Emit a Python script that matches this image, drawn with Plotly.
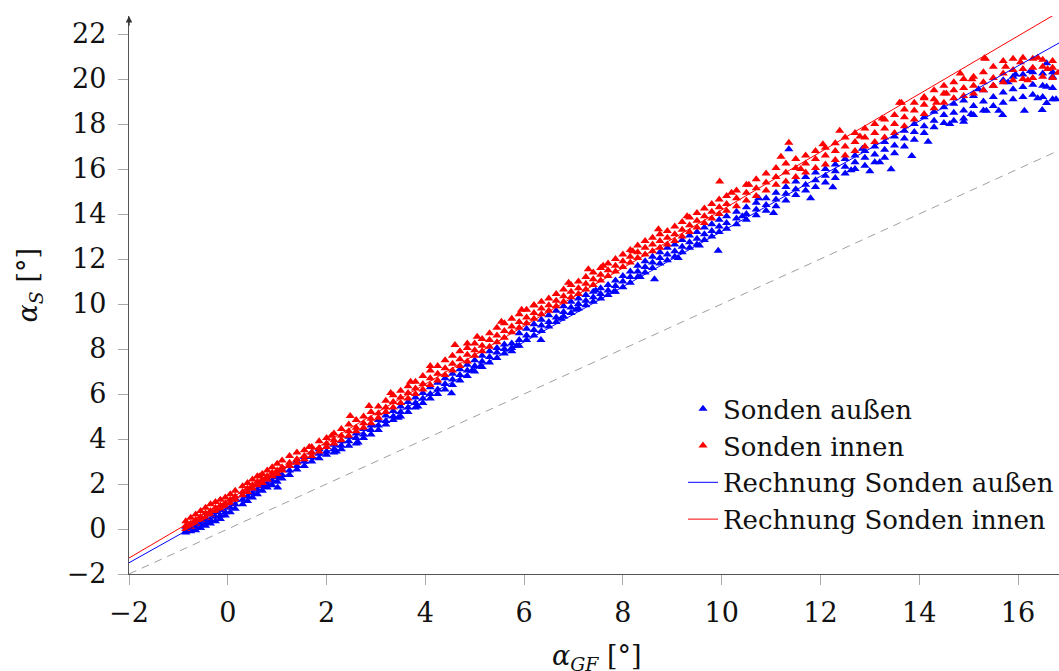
import plotly.graph_objects as go

# ---- data ----
blue_x = [-0.85, -0.75, -0.65, -0.55, -0.45, -0.35, -0.25, -0.15, -0.05, 0.05, 0.15, 0.30, 0.40, 0.50, 0.60, 0.70, 0.80, 0.90, 1.00, 1.10,
          1.25, 1.40, 1.55, 1.70, 1.85, 2.00, 2.15, 2.30, 2.45, 2.60, 2.75, 2.90, 3.05, 3.20, 3.35, 3.50, 3.65, 3.80, 3.95, 4.10,
          4.25, 4.40, 4.55, 4.70, 4.85, 5.00, 5.15, 5.30, 5.45, 5.60, 5.75, 5.90, 6.05, 6.20, 6.35, 6.50, 6.65, 6.80, 6.95, 7.10,
          7.25, 7.40, 7.55, 7.70, 7.85, 8.00, 8.15, 8.30, 8.45, 8.60, 8.75, 8.90, 9.05, 9.20, 9.35, 9.50, 9.65, 9.80, 9.95, 10.10,
          10.30, 10.50, 10.70, 10.90, 11.10, 11.30, 11.50, 11.70, 11.90, 12.10, 12.30, 12.50, 12.70, 12.90, 13.10, 13.30, 13.50, 13.70, 13.90, 14.10,
          14.30, 14.50, 14.70, 14.90, 15.10, 15.30, 15.50, 15.70, 15.90, 16.10, 16.30, 16.50, 16.70]
blue_y_mid = [-0.10, 0.00, 0.10, 0.20, 0.30, 0.40, 0.55, 0.60, 0.75, 0.95, 1.10, 1.30, 1.45, 1.60, 1.75, 1.90, 2.00, 2.15, 2.30, 2.40,
              2.60, 2.80, 3.00, 3.20, 3.35, 3.45, 3.55, 3.70, 3.90, 4.05, 4.20, 4.40, 4.60, 4.80, 5.00, 5.20, 5.40, 5.60, 5.80, 6.00,
              6.20, 6.45, 6.65, 6.85, 7.05, 7.25, 7.45, 7.65, 7.85, 8.00, 8.05, 8.40, 8.60, 8.85, 9.05, 9.20, 9.40, 9.65, 9.85, 10.00,
              10.15, 10.30, 10.45, 10.60, 10.80, 11.00, 11.20, 11.45, 11.65, 11.85, 12.05, 12.20, 12.35, 12.55, 12.75, 12.90, 13.10, 13.25, 13.45, 13.60,
              13.80, 14.00, 14.20, 14.40, 14.65, 14.90, 15.10, 15.30, 15.50, 15.70, 15.90, 16.10, 16.30, 16.50, 16.65, 16.85, 17.05, 17.35, 17.65, 17.90,
              18.15, 18.40, 18.50, 18.60, 18.80, 19.00, 19.20, 19.40, 19.55, 19.65, 19.75, 19.70, 19.60]
blue_y_hi = [0.10, 0.05, 0.30, 0.40, 0.50, 0.65, 0.75, 0.85, 1.00, 1.15, 1.35, 1.50, 1.65, 1.80, 1.95, 2.10, 2.25, 2.35, 2.50, 2.65,
             2.80, 3.00, 3.20, 3.40, 3.55, 3.65, 3.75, 3.90, 4.10, 4.25, 4.45, 4.60, 4.85, 5.05, 5.25, 5.45, 5.65, 5.85, 6.05, 6.30,
             6.50, 6.70, 6.90, 7.10, 7.30, 7.50, 7.70, 7.90, 8.05, 8.20, 8.25, 8.70, 8.90, 9.10, 9.30, 9.50, 9.70, 9.90, 10.10, 10.25,
             10.40, 10.55, 10.70, 10.85, 11.05, 11.25, 11.45, 11.70, 11.90, 12.10, 12.30, 12.50, 12.65, 12.85, 13.05, 13.20, 13.40, 13.55, 13.75, 13.90,
             14.10, 14.30, 14.50, 14.70, 14.95, 15.20, 15.45, 15.65, 15.85, 16.00, 16.20, 16.45, 16.60, 16.80, 17.00, 17.20, 17.45, 17.70, 18.00, 18.30,
             18.55, 18.75, 18.90, 19.05, 19.25, 19.50, 19.70, 19.95, 20.10, 20.20, 20.30, 20.25, 20.10]
blue_y_lo = [-0.15, -0.10, -0.05, 0.05, 0.15, 0.25, 0.35, 0.45, 0.60, 0.75, 0.90, 1.10, 1.25, 1.40, 1.55, 1.70, 1.85, 1.95, 2.10, 2.25,
             2.40, 2.65, 2.80, 3.00, 3.15, 3.30, 3.40, 3.55, 3.70, 3.80, 4.05, 4.20, 4.40, 4.65, 4.85, 5.00, 5.20, 5.40, 5.60, 5.80,
             6.00, 6.20, 6.40, 6.60, 6.80, 7.00, 7.20, 7.40, 7.60, 7.80, 7.90, 8.15, 8.40, 8.60, 8.80, 9.00, 9.20, 9.45, 9.60, 9.80,
             9.95, 10.10, 10.25, 10.40, 10.55, 10.75, 10.95, 11.20, 11.40, 11.60, 11.80, 11.95, 12.10, 12.30, 12.50, 12.65, 12.85, 13.00, 13.20, 13.35,
             13.55, 13.75, 13.95, 14.15, 14.35, 14.60, 14.85, 15.05, 15.20, 15.40, 15.60, 15.80, 16.00, 16.15, 16.30, 16.50, 16.70, 17.00, 17.30, 17.60,
             17.85, 18.05, 18.15, 18.25, 18.40, 18.60, 18.80, 18.95, 19.10, 19.20, 19.30, 19.20, 19.10]
# scattered / outlying blue points
blue_extra_x = [1.01, 2.64, 2.20, 3.45, 4.53, 5.12, 6.34, 7.05, 7.82, 8.64, 9.12, 9.93, 10.42, 11.36, 11.80, 12.25, 12.62, 13.00,
                13.43, 13.85, 14.18, 14.62, 15.05, 15.36, 15.61, 15.69, 15.95, 16.13, 16.49, 16.58, 16.58, 16.77, 16.58, 16.25,
                15.80, 15.20, 14.90, 16.70, 16.40, 13.20, 12.85, 11.05, 10.75, 9.55, 8.35, 7.45, 6.75, 5.85, 4.95, 3.85]
blue_extra_y = [1.85, 3.84, 3.45, 4.95, 6.03, 7.25, 8.40, 9.75, 10.55, 11.10, 12.05, 12.37, 13.90, 16.88, 14.70, 15.19, 15.95, 15.90,
                15.99, 16.58, 17.21, 18.00, 18.45, 18.59, 18.59, 18.40, 20.20, 18.59, 18.62, 18.93, 19.66, 19.10, 20.70, 20.35,
                19.85, 19.55, 18.10, 20.30, 19.15, 16.30, 16.90, 14.05, 14.70, 12.60, 11.20, 10.60, 9.35, 8.15, 7.05, 5.45]

red_x = blue_x
red_y_mid = [0.15, 0.25, 0.40, 0.55, 0.70, 0.80, 0.95, 1.05, 1.15, 1.30, 1.45, 1.65, 1.80, 1.95, 2.10, 2.20, 2.35, 2.50, 2.60, 2.75,
             2.95, 3.10, 3.25, 3.40, 3.60, 3.80, 3.95, 4.15, 4.35, 4.50, 4.70, 4.90, 5.15, 5.40, 5.65, 5.85, 6.05, 6.25, 6.45, 6.70,
             6.90, 7.15, 7.35, 7.55, 7.75, 7.95, 8.15, 8.40, 8.60, 8.80, 9.00, 9.20, 9.40, 9.60, 9.80, 9.95, 10.15, 10.35, 10.55, 10.70,
             10.90, 11.10, 11.30, 11.50, 11.70, 11.90, 12.10, 12.30, 12.50, 12.65, 12.80, 12.95, 13.10, 13.30, 13.50, 13.70, 13.90, 14.10, 14.30, 14.45,
             14.70, 14.95, 15.15, 15.40, 15.65, 15.85, 16.05, 16.25, 16.45, 16.60, 16.80, 17.00, 17.20, 17.40, 17.60, 17.80, 18.00, 18.30, 18.60, 18.85,
             19.10, 19.35, 19.50, 19.60, 19.70, 19.85, 20.05, 20.25, 20.40, 20.45, 20.50, 20.55, 20.50]
red_y_hi = [0.35, 0.50, 0.65, 0.80, 0.95, 1.10, 1.20, 1.30, 1.40, 1.55, 1.70, 1.90, 2.05, 2.20, 2.35, 2.45, 2.60, 2.75, 2.90, 3.05,
            3.25, 3.40, 3.50, 3.65, 3.90, 4.05, 4.25, 4.45, 4.65, 4.85, 5.00, 5.20, 5.45, 5.70, 5.95, 6.15, 6.35, 6.55, 6.80, 7.05,
            7.25, 7.50, 7.70, 7.90, 8.05, 8.25, 8.45, 8.70, 8.95, 9.15, 9.35, 9.55, 9.75, 9.95, 10.10, 10.25, 10.45, 10.65, 10.85, 11.00,
            11.20, 11.40, 11.60, 11.80, 12.00, 12.20, 12.40, 12.60, 12.80, 12.95, 13.10, 13.25, 13.45, 13.65, 13.85, 14.05, 14.25, 14.45, 14.65, 14.80,
            15.05, 15.30, 15.55, 15.80, 16.05, 16.25, 16.45, 16.60, 16.80, 16.95, 17.15, 17.40, 17.60, 17.80, 18.00, 18.20, 18.40, 18.65, 18.95, 19.20,
            19.50, 19.70, 19.85, 20.00, 20.10, 20.30, 20.55, 20.80, 20.90, 20.95, 20.90, 20.85, 20.80]
red_y_lo = [0.00, 0.10, 0.25, 0.40, 0.50, 0.65, 0.80, 0.90, 1.00, 1.15, 1.30, 1.50, 1.65, 1.80, 1.95, 2.05, 2.20, 2.35, 2.45, 2.60,
            2.80, 2.95, 3.10, 3.25, 3.45, 3.65, 3.80, 3.95, 4.15, 4.35, 4.50, 4.70, 4.95, 5.20, 5.40, 5.60, 5.80, 6.00, 6.20, 6.40,
            6.60, 6.85, 7.05, 7.25, 7.45, 7.70, 7.90, 8.10, 8.30, 8.50, 8.75, 8.95, 9.15, 9.35, 9.55, 9.70, 9.90, 10.10, 10.30, 10.45,
            10.65, 10.85, 11.05, 11.25, 11.45, 11.65, 11.85, 12.05, 12.20, 12.35, 12.50, 12.65, 12.80, 13.00, 13.20, 13.40, 13.60, 13.80, 14.00, 14.15,
            14.35, 14.60, 14.80, 15.05, 15.30, 15.45, 15.65, 15.85, 16.05, 16.20, 16.40, 16.60, 16.80, 17.00, 17.20, 17.40, 17.60, 17.90, 18.20, 18.45,
            18.70, 18.95, 19.15, 19.25, 19.35, 19.50, 19.70, 19.85, 19.95, 20.00, 20.05, 20.10, 20.05]
# scattered / outlying red points
red_extra_x = [2.48, 2.86, 1.65, 3.30, 4.10, 4.60, 5.05, 5.54, 6.20, 6.90, 7.60, 8.72, 9.30, 9.96, 10.55, 11.36, 11.60, 12.39,
               12.80, 13.25, 13.64, 13.60, 14.10, 14.55, 14.83, 15.07, 15.32, 15.34, 15.75, 16.05, 16.40, 16.81, 16.60, 16.20,
               15.50, 14.35, 12.05, 11.20, 10.20, 8.20, 7.30, 5.95, 4.85, 3.70, 2.10, 0.65]
red_extra_y = [5.02, 5.47, 3.65, 6.05, 7.25, 8.18, 8.55, 9.21, 9.95, 10.95, 11.70, 13.32, 13.90, 15.45, 15.30, 17.17, 16.00, 17.70,
               17.45, 18.25, 18.95, 18.95, 19.15, 19.35, 20.25, 19.99, 20.92, 20.90, 20.55, 20.75, 20.95, 20.28, 20.45, 19.95,
               19.70, 18.95, 17.10, 16.55, 14.95, 12.35, 11.55, 9.75, 8.25, 6.55, 4.15, 2.35]

fit_x = [-2.0, 16.83]
blue_fit_y = [-1.50, 21.60]
red_fit_y = [-1.29, 22.98]
ref_y = [-2.0, 16.83]

x_ticks = [-2, 0, 2, 4, 6, 8, 10, 12, 14, 16]
y_ticks = [-2, 0, 2, 4, 6, 8, 10, 12, 14, 16, 18, 20, 22]

FONT = "DejaVu Serif"
BLUE = "#0000ff"
RED = "#ff0000"

fig = go.Figure()

fig.add_trace(go.Scatter(x=fit_x, y=ref_y, mode="lines", showlegend=False,
                         line=dict(color="#a0a0a0", width=1, dash="8px,6px"), hoverinfo="skip"))

blue_all_x = blue_x + blue_x + blue_x + blue_extra_x
blue_all_y = blue_y_mid + blue_y_hi + blue_y_lo + blue_extra_y
red_all_x = red_x + red_x + red_x + red_extra_x
red_all_y = red_y_mid + red_y_hi + red_y_lo + red_extra_y

fig.add_trace(go.Scatter(x=blue_all_x, y=blue_all_y, mode="markers", name="Sonden außen",
                         marker=dict(symbol="triangle-up", size=8, color=BLUE, line=dict(width=0))))
fig.add_trace(go.Scatter(x=red_all_x, y=red_all_y, mode="markers", name="Sonden innen",
                         marker=dict(symbol="triangle-up", size=8, color=RED, line=dict(width=0))))
fig.add_trace(go.Scatter(x=fit_x, y=blue_fit_y, mode="lines", name="Rechnung Sonden außen",
                         line=dict(color=BLUE, width=1)))
fig.add_trace(go.Scatter(x=fit_x, y=red_fit_y, mode="lines", name="Rechnung Sonden innen",
                         line=dict(color=RED, width=1)))

axis_common = dict(showgrid=False, zeroline=False, showline=True, linecolor="#555555", linewidth=1.3,
                   ticks="outside", ticklen=10, tickcolor="#aaaaaa", tickwidth=1.3,
                   tickfont=dict(family=FONT, size=27, color="#111111"))

fig.update_layout(
    width=1059, height=671,
    margin=dict(l=129, r=0, t=16, b=97),
    paper_bgcolor="white", plot_bgcolor="white",
    font=dict(family=FONT),
    xaxis=dict(range=[-2, 16.83], tickvals=x_ticks, ticklabelstandoff=4, **axis_common),
    yaxis=dict(range=[-2, 22.8], tickvals=y_ticks, ticklabelstandoff=6, **axis_common),
    legend=dict(x=1.0, xanchor="right", y=0.055, yanchor="bottom", bgcolor="rgba(0,0,0,0)",
                font=dict(family=FONT, size=26, color="#111111"), tracegroupgap=0),
    annotations=[
        dict(text="<i>α</i><sub><i>GF</i></sub> [°]", xref="paper", yref="paper", x=0.503, y=-0.15,
             xanchor="center", yanchor="middle", showarrow=False, font=dict(family=FONT, size=27, color="#111111")),
        dict(text="<i>α</i><sub><i>S</i></sub> [°]", xref="paper", yref="paper", x=-0.106, y=0.518,
             xanchor="center", yanchor="middle", textangle=-90, showarrow=False,
             font=dict(family=FONT, size=27, color="#111111")),
        dict(x=-2, y=22.8, xref="x", yref="y", ax=-2, ay=22.3, axref="x", ayref="y", text="",
             showarrow=True, arrowhead=2, arrowsize=1, arrowwidth=1.3, arrowcolor="#333333"),
    ],
)

fig.write_html("out.html")
